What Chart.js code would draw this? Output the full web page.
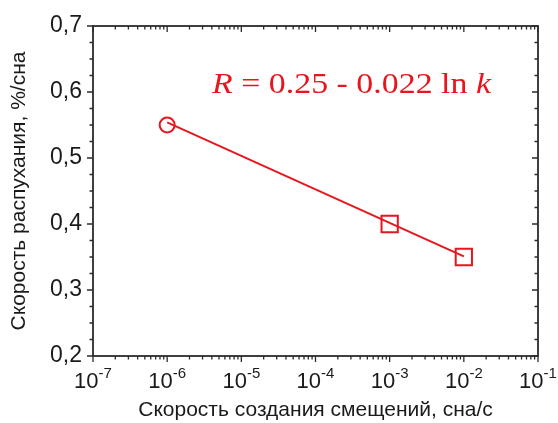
<!DOCTYPE html>
<html><head><meta charset="utf-8">
<script src="https://cdn.jsdelivr.net/npm/chart.js@4"></script>
<style>html,body{margin:0;padding:0;background:#fff}#wrap{width:558px;height:423px;position:relative}</style>
</head><body><div id="wrap"><canvas id="c"></canvas></div>
<script>
// ---- data ----
const circleX = [1e-6];
const circleY = [0.55];
const squareX = [1e-3, 1e-2];
const squareY = [0.40, 0.35];
const fitX = [1e-6, 1e-2];
const fitY = [0.554, 0.351];
const xTickExponents = [-7, -6, -5, -4, -3, -2, -1];
const yTickValues = [0.2, 0.3, 0.4, 0.5, 0.6, 0.7];
const yMinorStep = 0.025;
const xTitle = 'Скорость создания смещений, сна/с';
const yTitle = 'Скорость распухания, %/сна';
const annotation = ['R', ' = 0.25 - 0.022 ln ', 'k'];

const RED = '#e6161e';
const AXIS = '#2b2b2b';
const TEXT = '#1a1a1a';
const SANS = "'Liberation Sans', Arial, sans-serif";
const SERIF = "'Liberation Serif', 'Times New Roman', serif";

const toPts = (xs, ys) => xs.map((v, i) => ({x: v, y: ys[i]}));

const framePlugin = {
  id: 'frame',
  afterDatasetsDraw(chart) {
    const {ctx, chartArea: a, scales: {x, y}} = chart;
    ctx.save();
    ctx.strokeStyle = AXIS;
    ctx.lineWidth = 1.8;
    ctx.strokeRect(a.left, a.top, a.right - a.left, a.bottom - a.top);
    const MAJ = 6, MIN = 3.5;
    ctx.lineWidth = 1.3;
    ctx.beginPath();
    for (let i = 0; i < xTickExponents.length; i++) {
      const e = xTickExponents[i];
      const px = x.getPixelForValue(Math.pow(10, e));
      ctx.moveTo(px, a.bottom); ctx.lineTo(px, a.bottom + MAJ);
      ctx.moveTo(px, a.top); ctx.lineTo(px, a.top + MAJ);
      if (i < xTickExponents.length - 1) {
        for (let m = 2; m <= 9; m++) {
          const pm = x.getPixelForValue(m * Math.pow(10, e));
          ctx.moveTo(pm, a.bottom); ctx.lineTo(pm, a.bottom + MIN);
          ctx.moveTo(pm, a.top); ctx.lineTo(pm, a.top + MIN);
        }
      }
    }
    const y0 = yTickValues[0], y1 = yTickValues[yTickValues.length - 1];
    const n = Math.round((y1 - y0) / yMinorStep);
    for (let k = 0; k <= n; k++) {
      const v = y0 + k * yMinorStep;
      const py = y.getPixelForValue(v);
      const len = (k % 4 === 0) ? MAJ : MIN;
      ctx.moveTo(a.left, py); ctx.lineTo(a.left - len, py);
      ctx.moveTo(a.right, py); ctx.lineTo(a.right - len, py);
    }
    ctx.stroke();

    ctx.fillStyle = TEXT;
    ctx.textBaseline = 'alphabetic';
    ctx.textAlign = 'left';
    const baseFont = '22px ' + SANS, expFont = '15px ' + SANS;
    for (const e of xTickExponents) {
      const px = x.getPixelForValue(Math.pow(10, e));
      const es = String(e);
      ctx.font = baseFont; const w1 = ctx.measureText('10').width;
      ctx.font = expFont; const w2 = ctx.measureText(es).width;
      const sx = px - (w1 + w2) / 2;
      ctx.font = baseFont; ctx.fillText('10', sx, a.bottom + 32);
      ctx.font = expFont; ctx.fillText(es, sx + w1, a.bottom + 22);
    }

    ctx.fillStyle = RED;
    ctx.translate(a.left + 119, a.top + 67);
    ctx.scale(1.13, 1);
    let cx = 0;
    const fonts = ['italic 30px ' + SERIF, '30px ' + SERIF, 'italic 30px ' + SERIF];
    annotation.forEach((t, i) => {
      ctx.font = fonts[i];
      ctx.fillText(t, cx, 0);
      cx += ctx.measureText(t).width;
    });
    ctx.restore();
  }
};

new Chart(document.getElementById('c'), {
  type: 'scatter',
  data: {
    datasets: [
      {data: toPts(fitX, fitY), showLine: true, borderColor: RED, borderWidth: 2, pointRadius: 0, order: 2},
      {data: toPts(circleX, circleY), pointStyle: 'circle', pointRadius: 7.5, pointBorderWidth: 2,
       borderColor: RED, backgroundColor: 'rgba(0,0,0,0)', pointBackgroundColor: 'rgba(0,0,0,0)', order: 1},
      {data: toPts(squareX, squareY), pointStyle: 'rect', pointRadius: 11.5, pointBorderWidth: 2,
       borderColor: RED, backgroundColor: 'rgba(0,0,0,0)', pointBackgroundColor: 'rgba(0,0,0,0)', order: 1}
    ]
  },
  options: {
    responsive: true,
    maintainAspectRatio: false,
    animation: false,
    layout: {padding: {left: 0, top: 26, right: 20, bottom: 0}},
    plugins: {legend: {display: false}, tooltip: {enabled: false}},
    scales: {
      x: {
        type: 'logarithmic',
        min: Math.pow(10, xTickExponents[0]),
        max: Math.pow(10, xTickExponents[xTickExponents.length - 1]),
        grid: {display: false, drawTicks: false},
        border: {display: false},
        ticks: {display: false},
        title: {display: true, text: xTitle, color: TEXT,
                font: {family: SANS, size: 21}, padding: {top: 0, bottom: 0}},
        afterFit: s => { s.height = 67; }
      },
      y: {
        min: yTickValues[0],
        max: yTickValues[yTickValues.length - 1],
        grid: {display: false, drawTicks: false},
        border: {display: false},
        afterBuildTicks: s => { s.ticks = yTickValues.map(v => ({value: v})); },
        ticks: {color: TEXT, padding: 11, font: {family: SANS, size: 23},
                callback: v => Number(v).toFixed(1).replace('.', ',')},
        title: {display: true, text: yTitle, color: TEXT,
                font: {family: SANS, size: 21}, padding: {top: 7, bottom: 0}},
        afterFit: s => { s.width = 93; }
      }
    }
  },
  plugins: [framePlugin]
});
</script>
</body></html>
